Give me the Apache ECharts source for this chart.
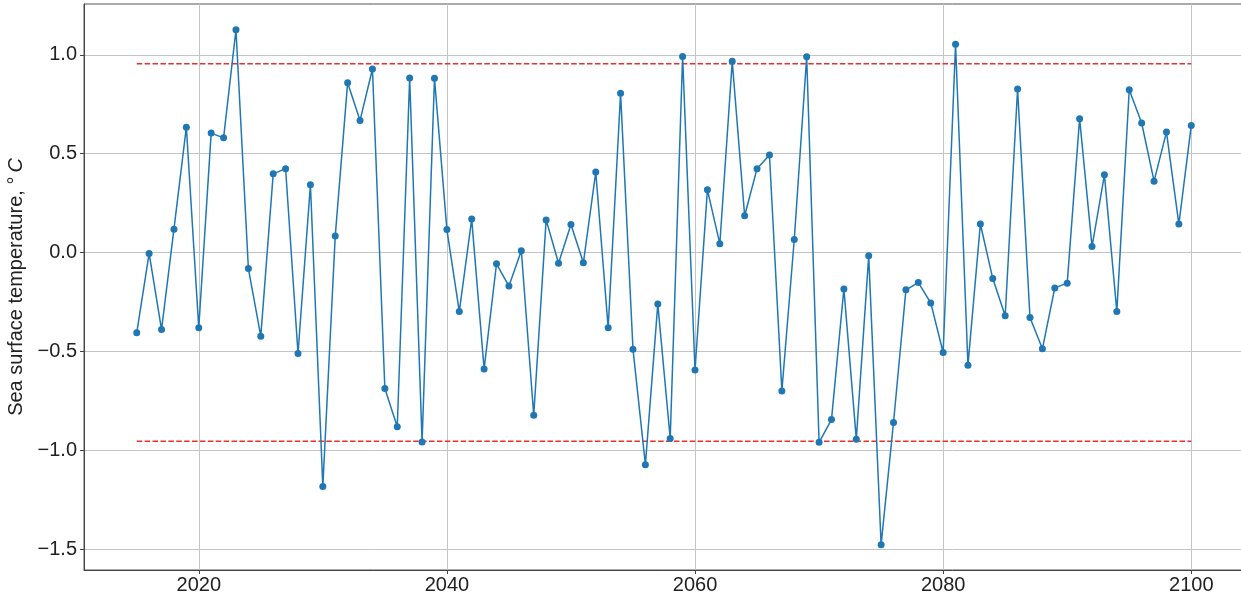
<!DOCTYPE html>
<html>
<head>
<meta charset="utf-8">
<script src="https://cdn.jsdelivr.net/npm/echarts@6/dist/echarts.min.js"></script>
<style>
html,body{margin:0;padding:0;background:#fff;overflow:hidden;}
#chart{width:1241px;height:598px;}
</style>
</head>
<body>
<div id="chart"></div>
<script>
const years = [2015,2016,2017,2018,2019,2020,2021,2022,2023,2024,2025,2026,2027,2028,2029,
2030,2031,2032,2033,2034,2035,2036,2037,2038,2039,2040,2041,2042,2043,2044,2045,2046,2047,2048,2049,
2050,2051,2052,2053,2054,2055,2056,2057,2058,2059,2060,2061,2062,2063,2064,2065,2066,2067,2068,2069,
2070,2071,2072,2073,2074,2075,2076,2077,2078,2079,2080,2081,2082,2083,2084,2085,2086,2087,2088,2089,
2090,2091,2092,2093,2094,2095,2096,2097,2098,2099,2100];
const sst = [-0.406,-0.005,-0.390,0.118,0.634,-0.381,0.604,0.580,1.127,-0.081,-0.423,0.398,0.424,-0.511,0.343,
-1.184,0.083,0.859,0.668,0.928,-0.688,-0.881,0.883,-0.958,0.881,0.116,-0.299,0.169,-0.589,-0.057,-0.170,0.009,-0.823,0.165,-0.054,
0.142,-0.052,0.407,-0.381,0.805,-0.489,-1.073,-0.261,-0.941,0.992,-0.594,0.317,0.044,0.967,0.186,0.424,0.493,-0.700,0.066,0.990,
-0.960,-0.845,-0.184,-0.944,-0.017,-1.478,-0.860,-0.189,-0.152,-0.255,-0.506,1.053,-0.570,0.144,-0.132,-0.320,0.827,-0.329,-0.487,-0.179,
-0.155,0.677,0.030,0.393,-0.299,0.823,0.655,0.361,0.609,0.144,0.643];
const thresholdUpper = 0.955;
const thresholdLower = -0.955;
const thresholdYears = [2015, 2100];
const xTicks = [2020, 2040, 2060, 2080, 2100];
const yTicks = [-1.5, -1.0, -0.5, 0.0, 0.5, 1.0];

const font = '"Liberation Sans", Arial, Helvetica, sans-serif';
const chart = echarts.init(document.getElementById('chart'));
const lineData = years.map((y, i) => [y, sst[i]]);
const upperData = thresholdYears.map(y => [y, thresholdUpper]);
const lowerData = thresholdYears.map(y => [y, thresholdLower]);

chart.setOption({
  animation: false,
  grid: {left: 84, width: 1160, top: 4, bottom: 28, outerBoundsMode: 'none', containLabel: false,
    show: true, borderColor: '#555', borderWidth: 1, backgroundColor: 'transparent'},
  xAxis: {
    type: 'value', min: 2010.75, max: 2104.25,
    axisLine: {show: true, onZero: false, lineStyle: {color: '#444', width: 1}},
    axisTick: {show: true, customValues: xTicks, length: 4, lineStyle: {color: '#444'}},
    axisLabel: {customValues: xTicks, fontFamily: font, fontSize: 20, color: '#222', margin: 5,
      formatter: v => String(v)},
    splitLine: {show: true, lineStyle: {color: '#c4c4c4', width: 1}}
  },
  yAxis: {
    type: 'value', min: -1.606, max: 1.257,
    name: '{a|Sea surface temperature, \u00B0\u2009}{c|C}',
    nameLocation: 'middle', nameGap: 48, nameRotate: 90,
    nameTextStyle: {fontFamily: font, fontSize: 20, color: '#222',
      rich: {a: {fontFamily: font, fontSize: 20, color: '#222'}, c: {fontFamily: font, fontSize: 20, fontStyle: 'italic', color: '#222'}}},
    axisLine: {show: true, onZero: false, lineStyle: {color: '#444', width: 1}},
    axisTick: {show: true, customValues: yTicks, length: 4, lineStyle: {color: '#444'}},
    axisLabel: {customValues: yTicks, fontFamily: font, fontSize: 20, color: '#222', margin: 7,
      formatter: v => v.toFixed(1).replace('-', '\u2212')},
    splitLine: {show: true, lineStyle: {color: '#c4c4c4', width: 1}}
  },
  series: [
    {type: 'line', data: upperData, symbol: 'none', z: 1,
      lineStyle: {color: '#e8302c', width: 1.5, type: [5.5, 2.4]}},
    {type: 'line', data: lowerData, symbol: 'none', z: 1,
      lineStyle: {color: '#e8302c', width: 1.5, type: [5.5, 2.4]}},
    {type: 'line', data: lineData, symbol: 'circle', symbolSize: 7, z: 3,
      lineStyle: {color: '#1f77b4', width: 1.5},
      itemStyle: {color: '#1f77b4', borderWidth: 0}}
  ]
});
</script>
</body>
</html>
